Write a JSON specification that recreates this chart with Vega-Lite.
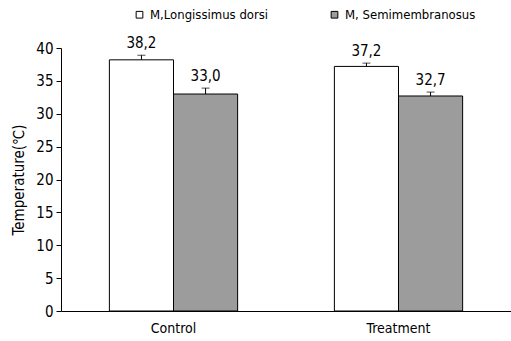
{
  "$schema": "https://vega.github.io/schema/vega-lite/v6.json",
  "autosize": "none",
  "width": 450,
  "height": 263,
  "padding": {"left": 61, "top": 48, "right": 0, "bottom": 30},
  "background": "white",
  "config": {
    "font": "DejaVu Sans Condensed",
    "view": {"stroke": null},
    "axis": {"labelFont": "DejaVu Sans Condensed", "titleFont": "DejaVu Sans Condensed", "labelColor": "black", "titleColor": "black", "domainColor": "black", "tickColor": "black", "grid": false},
    "legend": {"labelFont": "DejaVu Sans Condensed"}
  },
  "data": {
    "values": [
      {"group": "Control", "muscle": "M,Longissimus dorsi", "temp": 38.2, "err": 0.7, "label": "38,2"},
      {"group": "Control", "muscle": "M, Semimembranosus", "temp": 33.0, "err": 0.9, "label": "33,0"},
      {"group": "Treatment", "muscle": "M,Longissimus dorsi", "temp": 37.2, "err": 0.5, "label": "37,2"},
      {"group": "Treatment", "muscle": "M, Semimembranosus", "temp": 32.7, "err": 0.6, "label": "32,7"}
    ]
  },
  "transform": [{"calculate": "datum.temp + datum.err", "as": "hi"}],
  "encoding": {
    "x": {
      "field": "group", "type": "nominal",
      "scale": {"paddingInner": 0.43, "paddingOuter": 0.215},
      "axis": {"title": null, "labelAngle": 0, "ticks": false, "labelFontSize": 14, "labelPadding": 10, "domainWidth": 1}
    },
    "xOffset": {"field": "muscle", "type": "nominal", "scale": {"paddingInner": 0, "paddingOuter": 0}, "sort": ["M,Longissimus dorsi", "M, Semimembranosus"]}
  },
  "layer": [
    {
      "mark": {"type": "bar", "stroke": "black", "strokeWidth": 1},
      "encoding": {
        "y": {
          "field": "temp", "type": "quantitative",
          "scale": {"domain": [0, 40], "nice": false},
          "axis": {"title": "Temperature(℃)", "tickCount": 9, "labelOverlap": false, "tickSize": 5, "labelFontSize": 15, "labelPadding": 3, "titleFontSize": 15, "titleFontWeight": "normal", "titlePadding": 9}
        },
        "fill": {
          "field": "muscle", "type": "nominal",
          "scale": {"domain": ["M,Longissimus dorsi", "M, Semimembranosus"], "range": ["#ffffff", "#9c9c9c"]},
          "legend": {
            "title": null, "orient": "none", "legendX": 72, "legendY": -40,
            "direction": "horizontal", "symbolType": "square", "symbolSize": 45,
            "symbolStrokeColor": "black", "symbolStrokeWidth": 1,
            "labelFontSize": 13, "labelColor": "black", "columnPadding": 59, "labelLimit": 300
          }
        }
      }
    },
    {
      "mark": {"type": "rule", "stroke": "black", "strokeWidth": 1},
      "encoding": {
        "y": {"field": "temp", "type": "quantitative"},
        "y2": {"field": "hi"}
      }
    },
    {
      "mark": {"type": "tick", "orient": "horizontal", "size": 8, "thickness": 1, "color": "black"},
      "encoding": {"y": {"field": "hi", "type": "quantitative"}}
    },
    {
      "mark": {"type": "text", "baseline": "bottom", "dy": -4, "fontSize": 15, "color": "black"},
      "encoding": {
        "y": {"field": "hi", "type": "quantitative"},
        "text": {"field": "label"}
      }
    }
  ]
}
